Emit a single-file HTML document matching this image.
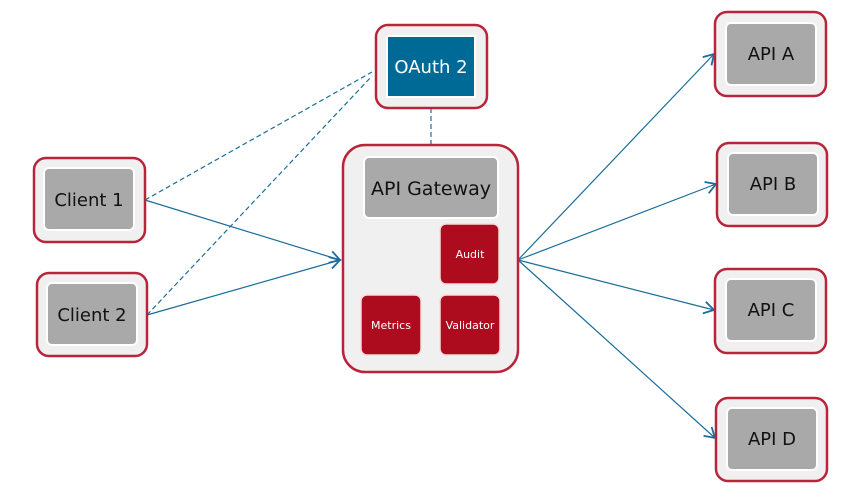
<!DOCTYPE html>
<html><head><meta charset="utf-8"><style>
html,body{margin:0;padding:0;background:#fff;}
svg{display:block;font-family:"DejaVu Sans","Liberation Sans",sans-serif;}
</style></head><body>
<svg width="858" height="503" viewBox="0 0 858 503" xmlns="http://www.w3.org/2000/svg">
<defs>
<marker id="ah" markerWidth="14" markerHeight="14" refX="11" refY="7" orient="auto" markerUnits="userSpaceOnUse">
<path d="M1,1 L11,7 L1,13" fill="none" stroke="#1a6e9a" stroke-width="1.8"/>
</marker>
</defs>
<g stroke="#1a6e9a" stroke-width="1.2" fill="none">
<line x1="145" y1="200" x2="372" y2="72" stroke-dasharray="5,3"/>
<line x1="147" y1="315" x2="372" y2="76" stroke-dasharray="5,3"/>
<line x1="431" y1="108" x2="431" y2="144" stroke-dasharray="5,3"/>
<line x1="145" y1="200" x2="340" y2="260" marker-end="url(#ah)"/>
<line x1="147" y1="315" x2="340" y2="260" marker-end="url(#ah)"/>
<line x1="518" y1="260" x2="714" y2="54" marker-end="url(#ah)"/>
<line x1="518" y1="260" x2="716" y2="184" marker-end="url(#ah)"/>
<line x1="518" y1="260" x2="714" y2="310" marker-end="url(#ah)"/>
<line x1="518" y1="260" x2="715" y2="438" marker-end="url(#ah)"/>
</g>
<g stroke="#b8243a" stroke-width="2.5" fill="#f0f0f0">
<rect x="34" y="158" width="111" height="84" rx="12"/>
<rect x="37" y="273" width="110" height="83" rx="12"/>
<rect x="376" y="25" width="111" height="83" rx="12"/>
<rect x="343" y="145" width="175" height="227" rx="22"/>
<rect x="715" y="12" width="111" height="84" rx="12"/>
<rect x="717" y="143" width="110" height="83" rx="12"/>
<rect x="715" y="269" width="111" height="84" rx="12"/>
<rect x="716" y="398" width="111" height="83" rx="12"/>
</g>
<g fill="#a9a9a9" stroke="#fff" stroke-width="2">
<rect x="44" y="168" width="90" height="62" rx="5"/>
<rect x="47" y="283" width="90" height="62" rx="5"/>
<rect x="364" y="157" width="134" height="61" rx="5"/>
<rect x="726" y="23" width="90" height="62" rx="5"/>
<rect x="728" y="153" width="90" height="62" rx="5"/>
<rect x="726" y="279" width="90" height="62" rx="5"/>
<rect x="727" y="408" width="90" height="62" rx="5"/>
</g>
<rect x="387" y="36" width="88" height="61" fill="#006a96" stroke="#fff" stroke-width="2"/>
<g fill="#ad0c1f" stroke="#f6dada" stroke-width="1.5">
<rect x="440" y="224" width="59" height="60" rx="6"/>
<rect x="361" y="295" width="60" height="60" rx="6"/>
<rect x="440" y="295" width="60" height="60" rx="6"/>
</g>
<g font-size="18" text-anchor="middle" fill="#111">
<text x="89" y="206">Client 1</text>
<text x="92" y="321">Client 2</text>
<text x="431" y="195" font-size="19">API Gateway</text>
<text x="771" y="60">API A</text>
<text x="773" y="190">API B</text>
<text x="771" y="316">API C</text>
<text x="772" y="445">API D</text>
<text x="431" y="73" fill="#fff" font-size="18">OAuth 2</text>
</g>
<g font-size="11" text-anchor="middle" fill="#fff">
<text x="470" y="258">Audit</text>
<text x="391" y="329">Metrics</text>
<text x="470" y="329">Validator</text>
</g>
</svg>
</body></html>
